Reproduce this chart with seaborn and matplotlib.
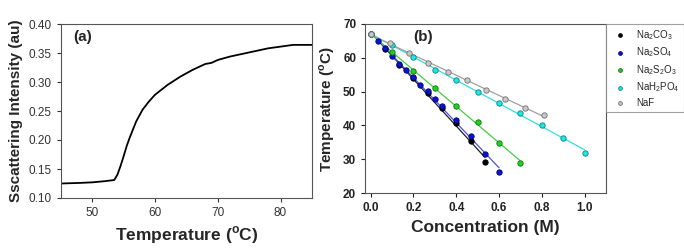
import numpy as np
import pandas as pd
import matplotlib
matplotlib.use('Agg')
import matplotlib.pyplot as plt
import seaborn as sns

# panel (a): scattering intensity vs temperature
temp_a = [45, 48, 50, 52, 53.5, 54, 54.5, 55, 55.5, 56, 57, 58, 59, 60, 62, 64, 66, 68,
          69, 70, 72, 75, 78, 80, 82, 85]
intensity_a = [0.125, 0.126, 0.127, 0.129, 0.131, 0.140, 0.155, 0.172, 0.190, 0.205, 0.232,
               0.252, 0.266, 0.278, 0.295, 0.309, 0.321, 0.331, 0.333, 0.338, 0.344, 0.351,
               0.358, 0.361, 0.364, 0.364]

# panel (b): cloud point temperature vs salt concentration
salts = ['Na$_2$CO$_3$', 'Na$_2$SO$_4$', 'Na$_2$S$_2$O$_3$', 'NaH$_2$PO$_4$', 'NaF']
conc_b = [
    [0, 0.067, 0.133, 0.2, 0.267, 0.333, 0.4, 0.467, 0.533],
    [0, 0.033, 0.067, 0.1, 0.133, 0.167, 0.2, 0.233, 0.267, 0.3, 0.333, 0.4, 0.467, 0.533, 0.6],
    [0, 0.1, 0.2, 0.3, 0.4, 0.5, 0.6, 0.7],
    [0, 0.1, 0.2, 0.3, 0.4, 0.5, 0.6, 0.7, 0.8, 0.9, 1.0],
    [0, 0.09, 0.18, 0.27, 0.36, 0.45, 0.54, 0.63, 0.72, 0.81],
]
temp_b = [
    [67.0, 62.6, 58.0, 54.0, 49.6, 45.2, 40.6, 35.4, 29.1],
    [67.0, 65.1, 62.9, 60.6, 58.3, 56.3, 54.4, 52.1, 50.1, 47.8, 45.6, 41.7, 37.0, 31.4, 26.3],
    [67.0, 61.6, 56.2, 51.1, 45.8, 40.9, 34.9, 28.9],
    [67.0, 63.8, 60.1, 56.5, 53.3, 50.0, 46.7, 43.7, 40.0, 36.4, 31.9],
    [67.0, 64.3, 61.3, 58.6, 55.8, 53.3, 50.6, 47.8, 45.2, 43.0],
]
face_colors = ['#000000', '#0a14c8', '#1ed21e', '#1ee6e6', '#c8c8c8']
edge_colors = ['#000000', '#000080', '#107010', '#108080', '#707070']
line_colors = ['#202020', '#5050e0', '#40d040', '#30e0e0', '#a0a0a0']

sns.set_theme(style='ticks')
plt.rcParams['font.family'] = ['Liberation Sans', 'DejaVu Sans']
plt.rcParams['mathtext.fontset'] = 'custom'
plt.rcParams['mathtext.rm'] = 'Liberation Sans'
plt.rcParams['mathtext.bf'] = 'Liberation Sans:bold'

fig = plt.figure(figsize=(6.84, 2.5), dpi=100)
ax_a = fig.add_axes([0.089, 0.208, 0.367, 0.696])
ax_b = fig.add_axes([0.534, 0.228, 0.352, 0.676])

# (a)
sns.lineplot(x=temp_a, y=intensity_a, ax=ax_a, color='black', linewidth=1.3)
ax_a.set_xlim(45, 85)
ax_a.set_ylim(0.10, 0.40)
ax_a.set_xticks([50, 60, 70, 80])
ax_a.set_yticks(np.arange(0.10, 0.401, 0.05))
ax_a.set_yticklabels([f'{v:.2f}' for v in np.arange(0.10, 0.401, 0.05)])
ax_a.tick_params(labelsize=8.5, length=3, width=0.8, colors='#333333')
ax_a.set_xlabel('Temperature ($^\\mathregular{o}$C)', fontsize=12.5, weight='bold')
ax_a.set_ylabel('Sscattering Intensity (au)', fontsize=11, weight='bold')
ax_a.text(0.05, 0.925, '(a)', transform=ax_a.transAxes, fontsize=11, weight='bold', va='center')

# (b)
for i, name in enumerate(salts):
    df = pd.DataFrame({'c': conc_b[i], 't': temp_b[i]})
    sns.regplot(data=df, x='c', y='t', ax=ax_b, ci=None, scatter=False, truncate=True,
                line_kws={'color': line_colors[i], 'linewidth': 0.9})
for i, name in enumerate(salts):
    df = pd.DataFrame({'c': conc_b[i], 't': temp_b[i]})
    sns.scatterplot(data=df, x='c', y='t', ax=ax_b, color=face_colors[i],
                    edgecolor=edge_colors[i], linewidth=0.6, s=15, label=name, zorder=3)
ax_b.set_xlim(-0.025, 1.1)
ax_b.set_ylim(20, 70)
ax_b.set_xticks(np.arange(0, 1.01, 0.2))
ax_b.set_xticklabels([f'{v:.1f}' for v in np.arange(0, 1.01, 0.2)])
ax_b.set_yticks(range(20, 71, 10))
ax_b.tick_params(labelsize=8.5, length=3, width=0.8, colors='#222222')
for lab in ax_b.get_xticklabels() + ax_b.get_yticklabels():
    lab.set_fontweight('bold')
ax_b.set_xlabel('Concentration (M)', fontsize=12.5, weight='bold')
ax_b.set_ylabel('Temperature ($^\\mathregular{o}$C)', fontsize=11, weight='bold')
ax_b.text(0.2, 0.923, '(b)', transform=ax_b.transAxes, fontsize=11, weight='bold', va='center')
leg = ax_b.legend(loc='upper left', bbox_to_anchor=(1.0, 1.0), borderaxespad=0,
                  fontsize=7, frameon=True, fancybox=False, markerscale=0.7,
                  handletextpad=0.7, labelspacing=0.38, borderpad=0.4)
leg.get_frame().set_edgecolor('#888888')
leg.get_frame().set_linewidth(0.8)

for ax in (ax_a, ax_b):
    for sp in ax.spines.values():
        sp.set_visible(True)
        sp.set_color('#555555')
        sp.set_linewidth(0.8)

fig.savefig('out.png', dpi=100)
plt.close(fig)
